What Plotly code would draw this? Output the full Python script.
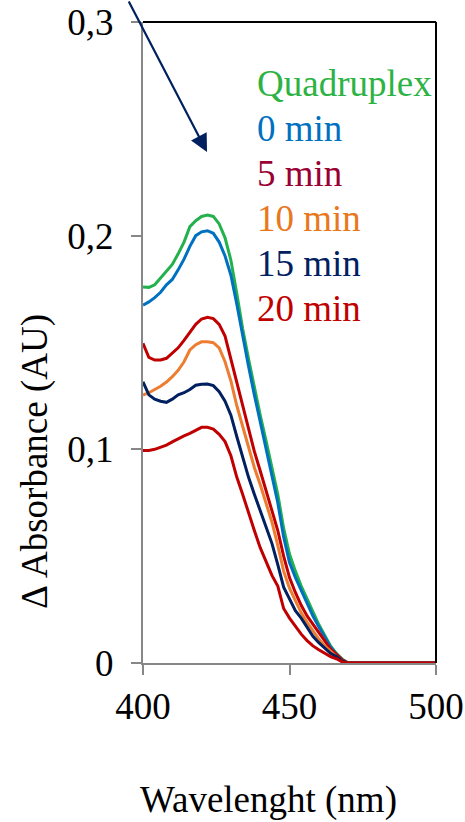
import plotly.graph_objects as go

wavelength = [400, 402, 404, 406, 408, 410, 412, 414, 416, 418, 420, 422, 424, 426, 428, 430,
              432, 434, 436, 438, 440, 442, 444, 446, 448, 450, 452, 454, 456, 458, 460, 462,
              464, 466, 468, 470, 480, 490, 500]

quadruplex = [0.176, 0.1758, 0.177, 0.180, 0.1835, 0.1865, 0.1915, 0.197, 0.2042, 0.207, 0.209, 0.2096,
              0.209, 0.2055, 0.199, 0.1885, 0.173, 0.1565, 0.1425, 0.129, 0.116, 0.104, 0.092, 0.079,
              0.063, 0.051, 0.043, 0.036, 0.030, 0.024, 0.018, 0.013, 0.008, 0.0045, 0.0018, 0, 0, 0, 0]
min0 = [0.1675, 0.169, 0.171, 0.1735, 0.177, 0.1795, 0.184, 0.189, 0.195, 0.200, 0.2018, 0.2023,
        0.2011, 0.197, 0.1905, 0.1815, 0.168, 0.153, 0.139, 0.1255, 0.1125, 0.100, 0.088, 0.075,
        0.059, 0.047, 0.040, 0.034, 0.028, 0.022, 0.017, 0.012, 0.0075, 0.004, 0.0015, 0, 0, 0, 0]
min5 = [0.1496, 0.143, 0.1418, 0.1418, 0.1426, 0.145, 0.1475, 0.151, 0.155, 0.1585, 0.161, 0.1618,
        0.1612, 0.1585, 0.153, 0.142, 0.131, 0.120, 0.109, 0.099, 0.090, 0.081, 0.072, 0.062,
        0.050, 0.040, 0.033, 0.027, 0.022, 0.018, 0.014, 0.010, 0.0065, 0.004, 0.0015, 0, 0, 0, 0]
min10 = [0.1254, 0.1265, 0.128, 0.1295, 0.1315, 0.134, 0.137, 0.141, 0.1465, 0.149, 0.1503, 0.1504,
         0.1499, 0.1475, 0.141, 0.132, 0.1205, 0.1105, 0.1005, 0.0915, 0.0835, 0.075, 0.066, 0.055,
         0.043, 0.035, 0.029, 0.0235, 0.019, 0.015, 0.0112, 0.008, 0.0055, 0.003, 0.001, 0, 0, 0, 0]
min15 = [0.1316, 0.1255, 0.1235, 0.1225, 0.122, 0.1235, 0.1255, 0.1265, 0.128, 0.130, 0.1305, 0.1306,
         0.1298, 0.127, 0.1225, 0.116, 0.106, 0.096, 0.087, 0.079, 0.071, 0.0635, 0.056, 0.046,
         0.0355, 0.030, 0.0245, 0.021, 0.017, 0.0125, 0.0095, 0.0068, 0.0045, 0.003, 0.001, 0, 0, 0, 0]
min20 = [0.0995, 0.0995, 0.100, 0.101, 0.102, 0.1035, 0.105, 0.1063, 0.1075, 0.109, 0.1103, 0.1103,
         0.1095, 0.107, 0.1036, 0.097, 0.087, 0.079, 0.070, 0.062, 0.054, 0.0475, 0.041, 0.036,
         0.0255, 0.021, 0.017, 0.0135, 0.0105, 0.008, 0.0062, 0.0045, 0.003, 0.002, 0.0005, 0, 0, 0, 0]

series_names = ["Quadruplex", "0 min", "5 min", "10 min", "15 min", "20 min"]
series_values = [quadruplex, min0, min5, min10, min15, min20]
line_colors = ["#22B14C", "#0070C0", "#C00000", "#ED7D31", "#002060", "#C00000"]
label_colors = ["#2DB343", "#0070C0", "#990033", "#E8771E", "#002060", "#C00000"]

x_ticks = [400, 450, 500]
x_tick_labels = ["400", "450", "500"]
y_ticks = [0, 0.1, 0.2, 0.3]
y_tick_labels = ["0", "0,1", "0,2", "0,3"]

FONT = "Liberation Serif"
FS = 37
W, H = 465, 822
L, R, T, B = 143, 29, 22, 159
pw, ph = W - L - R, H - T - B

def px(xp):
    return (xp - L) / pw

def py(yp):
    return (H - B - yp) / ph

fig = go.Figure()
for name, vals, col in zip(series_names, series_values, line_colors):
    fig.add_trace(go.Scatter(x=wavelength, y=vals, mode="lines", name=name,
                             line=dict(color=col, width=3), showlegend=False))

fig.update_layout(
    width=W, height=H,
    margin=dict(l=L, r=R, t=T, b=B, pad=0, autoexpand=False),
    paper_bgcolor="white", plot_bgcolor="white",
    font=dict(family=FONT, size=FS, color="black"),
    showlegend=False,
)
fig.update_xaxes(range=[400, 500], tickvals=x_ticks, ticktext=x_tick_labels, automargin=False,
                 showgrid=False, zeroline=False, showline=True, linecolor="#878787", linewidth=2,
                 ticks="outside", ticklen=10, tickwidth=2, tickcolor="#878787",
                 ticklabelstandoff=0, tickfont=dict(family=FONT, size=FS, color="black"))
fig.update_yaxes(range=[0, 0.3], tickvals=y_ticks, ticktext=y_tick_labels, automargin=False,
                 showgrid=False, zeroline=False, showline=True, linecolor="#878787", linewidth=2,
                 ticks="outside", ticklen=10, tickwidth=2, tickcolor="#878787",
                 ticklabelstandoff=10, tickfont=dict(family=FONT, size=FS, color="black"))

# top and right borders (black)
fig.add_shape(type="line", xref="paper", yref="paper", x0=0, x1=1, y0=1, y1=1,
              line=dict(color="black", width=2))
fig.add_shape(type="line", xref="paper", yref="paper", x0=1, x1=1, y0=0, y1=1,
              line=dict(color="black", width=2))

# legend-like coloured labels
baselines = [95, 141, 186, 231, 275, 320]
for name, col, bl in zip(series_names, label_colors, baselines):
    fig.add_annotation(text=name, xref="paper", yref="paper", x=px(255), y=py(bl - 12),
                       xanchor="left", yanchor="middle", showarrow=False,
                       font=dict(family=FONT, size=FS, color=col))

# axis titles
fig.add_annotation(text="Wavelenght (nm)", xref="paper", yref="paper", x=px(268), y=py(800),
                   xanchor="center", yanchor="middle", showarrow=False,
                   font=dict(family=FONT, size=FS, color="black"))
fig.add_annotation(text="Δ Absorbance (AU)", xref="paper", yref="paper", x=px(35), y=py(462),
                   xanchor="center", yanchor="middle", textangle=-90, showarrow=False,
                   font=dict(family=FONT, size=FS, color="black"))

# arrow
fig.add_annotation(text="", xref="paper", yref="paper", x=px(207), y=py(152),
                   ax=128 - 207, ay=-6 - 152, axref="pixel", ayref="pixel",
                   showarrow=True, arrowhead=2, arrowsize=1.6, arrowwidth=2.2,
                   arrowcolor="#002060")

fig.write_html("out.html")
